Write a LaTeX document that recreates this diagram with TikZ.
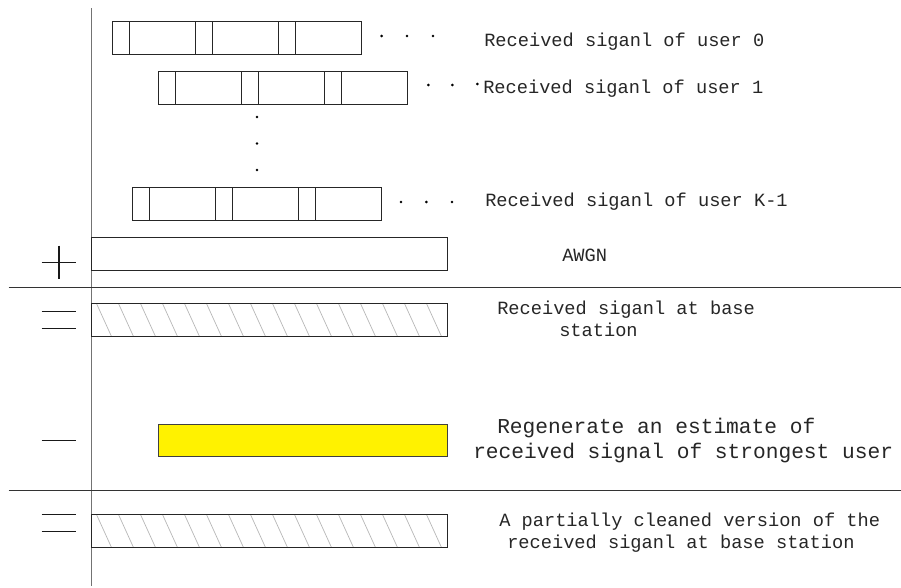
\documentclass[tikz,border=0pt]{standalone}
\usepackage{fontspec}
\setmonofont{Liberation Mono}
\begin{document}
\tikzset{
  barframe/.style={draw=black!85, line width=0.8pt},
  axisline/.style={draw=black!55, line width=1pt},
  divider/.style={draw=black!80, line width=0.9pt},
  opsign/.style={draw=black!90, line width=0.9pt},
  hatchline/.style={draw=black!28, line width=0.55pt},
  blip/.style={circle, fill=black, inner sep=0pt, minimum size=2.2pt},
  txt/.style={font=\ttfamily\fontsize{14}{17}\selectfont, anchor=base west, inner sep=0pt, text=black!85},
  bigtxt/.style={font=\ttfamily\fontsize{15.9}{19}\selectfont, anchor=base west, inner sep=0pt, text=black!85},
}
% one user's frame: three short/long slot pairs, left edge #1, top #2, bottom #3
\newcommand\sigrow[3]{%
  \draw[barframe] (#1,#2) rectangle ++(249,{#3-#2});
  \foreach \d in {17,83,100,166,183}
    \draw[barframe] ({#1+\d},#2) -- ({#1+\d},#3);
}
% hatched bar from left edge #1 to x=447.7, top #2, bottom #3
\newcommand\hatchbar[3]{%
  \begin{scope}
    \clip (#1,#2) rectangle (447.7,#3);
    \foreach \i in {-2,...,17}
      \draw[hatchline] ({#1+5+\i*22},#2) -- ++(15,{#3-#2});
  \end{scope}
  \draw[barframe] (#1,#2) rectangle (447.7,#3);
}
\begin{tikzpicture}[x=0.75pt,y=-0.75pt]
\useasboundingbox (0,0) rectangle (901,587);

% time axis and the two separating rules
\coordinate (axtop) at (91.5,8);
\coordinate (axbot) at (91.5,586);
\draw[axisline] (axtop) -- (axbot);
\coordinate (r1a) at (8.5,287.5);
\coordinate (r1b) at (901,287.5);
\draw[divider] (r1a) -- (r1b);
\coordinate (r2a) at (8.5,490.5);
\coordinate (r2b) at (901,490.5);
\draw[divider] (r2a) -- (r2b);

% user signals
\sigrow{112.5}{21.5}{54.5}
\sigrow{158.5}{71.5}{104.5}
\sigrow{132.5}{187.5}{220.5}

\node[blip] (d01) at (381.7,36) {};
\node[blip] (d02) at (407,36) {};
\node[blip] (d03) at (433,36) {};
\node[blip] (d11) at (428.3,85) {};
\node[blip] (d12) at (452.3,85) {};
\node[blip] (d13) at (477.3,84) {};
\node[blip] (dk1) at (401,202) {};
\node[blip] (dk2) at (426.3,202) {};
\node[blip] (dk3) at (452,202) {};
\node[blip] (v1) at (257,117) {};
\node[blip] (v2) at (257,143.5) {};
\node[blip] (v3) at (257,170) {};

\node[txt] (u0) at (484,46.5) {Received siganl of user 0};
\node[txt] (u1) at (483,93) {Received siganl of user 1};
\node[txt] (uk) at (485,206) {Received siganl of user K-1};

% noise
\draw[barframe] (91.5,237.5) rectangle (447.5,270.5);
\node[txt] (awgn) at (562,261) {AWGN};
\coordinate (pl) at (41.7,262.5);
\coordinate (pr) at (75.7,262.5);
\coordinate (pt) at (59,245.7);
\coordinate (pb) at (59,279.3);
\draw[opsign] (pl) -- (pr);
\draw[opsign] (pt) -- (pb);

% received signal at base station
\hatchbar{91.5}{303.5}{336.5}
\coordinate (e1a) at (41.7,311.5);
\coordinate (e1b) at (75.7,311.5);
\coordinate (e2a) at (41.7,328.5);
\coordinate (e2b) at (75.7,328.5);
\draw[opsign] (e1a) -- (e1b);
\draw[opsign] (e2a) -- (e2b);
\node[txt] (rx1) at (497,314) {Received siganl at base};
\node[txt] (rx2) at (559,336) {station};

% regenerated estimate of the strongest user
\draw[barframe, draw=black!75, fill=yellow] (158.5,424.5) rectangle (447.5,456.5);
\coordinate (m1) at (41.7,440.5);
\coordinate (m2) at (75.7,440.5);
\draw[opsign] (m1) -- (m2);
\node[bigtxt] (re1) at (497,433) {Regenerate an estimate of};
\node[bigtxt] (re2) at (473,458) {received signal of strongest user};

% cleaned signal
\hatchbar{91.5}{514.5}{547.5}
\coordinate (f1a) at (41.7,514.5);
\coordinate (f1b) at (75.7,514.5);
\coordinate (f2a) at (41.7,531.5);
\coordinate (f2b) at (75.7,531.5);
\draw[opsign] (f1a) -- (f1b);
\draw[opsign] (f2a) -- (f2b);
\node[txt] (pc1) at (499,526) {A partially cleaned version of the};
\node[txt] (pc2) at (507,548) {received siganl at base station};
\end{tikzpicture}
\end{document}
